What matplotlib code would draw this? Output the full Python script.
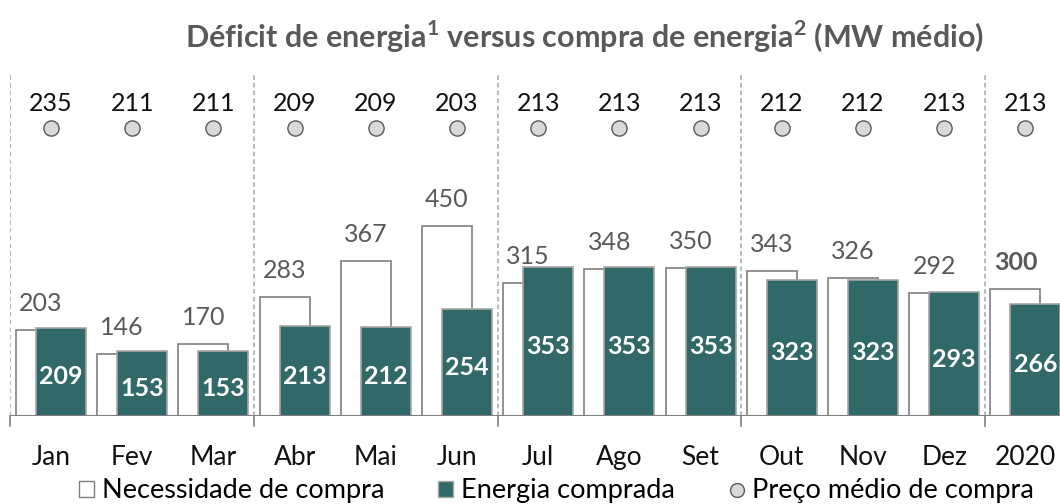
import matplotlib
matplotlib.use("Agg")
import matplotlib.pyplot as plt
from matplotlib.lines import Line2D
from matplotlib.patches import Patch
import numpy as np

plt.rcParams["font.family"] = ["Lato", "DejaVu Sans"]
plt.rcParams["mathtext.fontset"] = "custom"
plt.rcParams["mathtext.rm"] = "Lato:bold"
plt.rcParams["mathtext.bf"] = "Lato:bold"

meses = ["Jan", "Fev", "Mar", "Abr", "Mai", "Jun", "Jul", "Ago", "Set",
         "Out", "Nov", "Dez", "2020"]
necessidade = [203, 146, 170, 283, 367, 450, 315, 348, 350, 343, 326, 292, 300]
comprada = [209, 153, 153, 213, 212, 254, 353, 353, 353, 323, 323, 293, 266]
preco = [235, 211, 211, 209, 209, 203, 213, 213, 213, 212, 212, 213, 213]

verde = "#316868"
cinza_txt = "#595959"
fs = 18

fig = plt.figure(figsize=(10.6, 5.04), dpi=100)
ax = fig.add_axes([10.4 / 1060, 88 / 504, 1055.6 / 1060, 341 / 504])

x = np.arange(len(meses))
off = 0.123
w = 0.615

ax.bar(x - off, necessidade, width=w, color="white", edgecolor="#7f7f7f",
       linewidth=1.2, zorder=2)
ax.bar(x + off, comprada, width=w, color=verde, edgecolor="#a6a6a6",
       linewidth=1.2, zorder=3)

# preço médio: marcadores numa faixa fixa no topo
y_dot = 682
y_preco_txt = 741
ax.scatter(x, [y_dot] * len(x), s=120, color="#d9d9d9", edgecolor="#595959",
           linewidth=1.0, zorder=4)
for i, p in enumerate(preco):
    ax.text(x[i], y_preco_txt, str(p), ha="center", va="center",
            fontsize=fs, color="#111111")

for i, v in enumerate(necessidade):
    bold = meses[i] == "2020"
    ax.annotate(str(v), (x[i] - off, v), xytext=(0, 13.7),
                textcoords="offset points", ha="center", va="baseline",
                fontsize=fs, color=cinza_txt,
                fontweight="bold" if bold else "normal")

for i, v in enumerate(comprada):
    ax.text(x[i] + off, v / 2 - 12, str(v), ha="center", va="center",
            fontsize=fs, color="white", fontweight="bold", zorder=5)

# separadores de trimestre
for b in [-0.5, 2.5, 5.5, 8.5, 11.5]:
    ax.axvline(b, color="#a6a6a6", linestyle=(0, (3, 2)), linewidth=1.1,
               zorder=1)
    ax.plot([b, b], [0, -24], color="#7f7f7f", linewidth=1.2,
            clip_on=False, zorder=1)

ax.axhline(0, color="#7f7f7f", linewidth=1.5, zorder=6)

ax.set_xlim(-0.5, 12.5)
ax.set_ylim(0, 808)
ax.set_xticks(x)
ax.set_xticklabels(meses, fontsize=19, color="#111111")
ax.tick_params(axis="x", length=0, pad=21)
ax.set_yticks([])
for s in ax.spines.values():
    s.set_visible(False)

fig.text(0.551, 0.927,
         "Déficit de energia$^1$ versus compra de energia$^2$ (MW médio)",
         ha="center", va="center", fontsize=22, fontweight="bold",
         color=cinza_txt)

handles = [
    Patch(facecolor="white", edgecolor="#7f7f7f", label="Necessidade de compra"),
    Patch(facecolor=verde, edgecolor="#a6a6a6", label="Energia comprada"),
    Line2D([], [], marker="o", linestyle="none", markersize=10,
           markerfacecolor="#d9d9d9", markeredgecolor="#595959",
           label="Preço médio de compra"),
]
fig.legend(handles=handles, loc="center", bbox_to_anchor=(0.525, 0.026),
           ncol=3, frameon=False, prop={"family": "Lato", "size": 19.5},
           handlelength=0.55, handleheight=0.55, handletextpad=0.3,
           columnspacing=2.0, borderpad=0)

fig.savefig("out.png", dpi=100)
